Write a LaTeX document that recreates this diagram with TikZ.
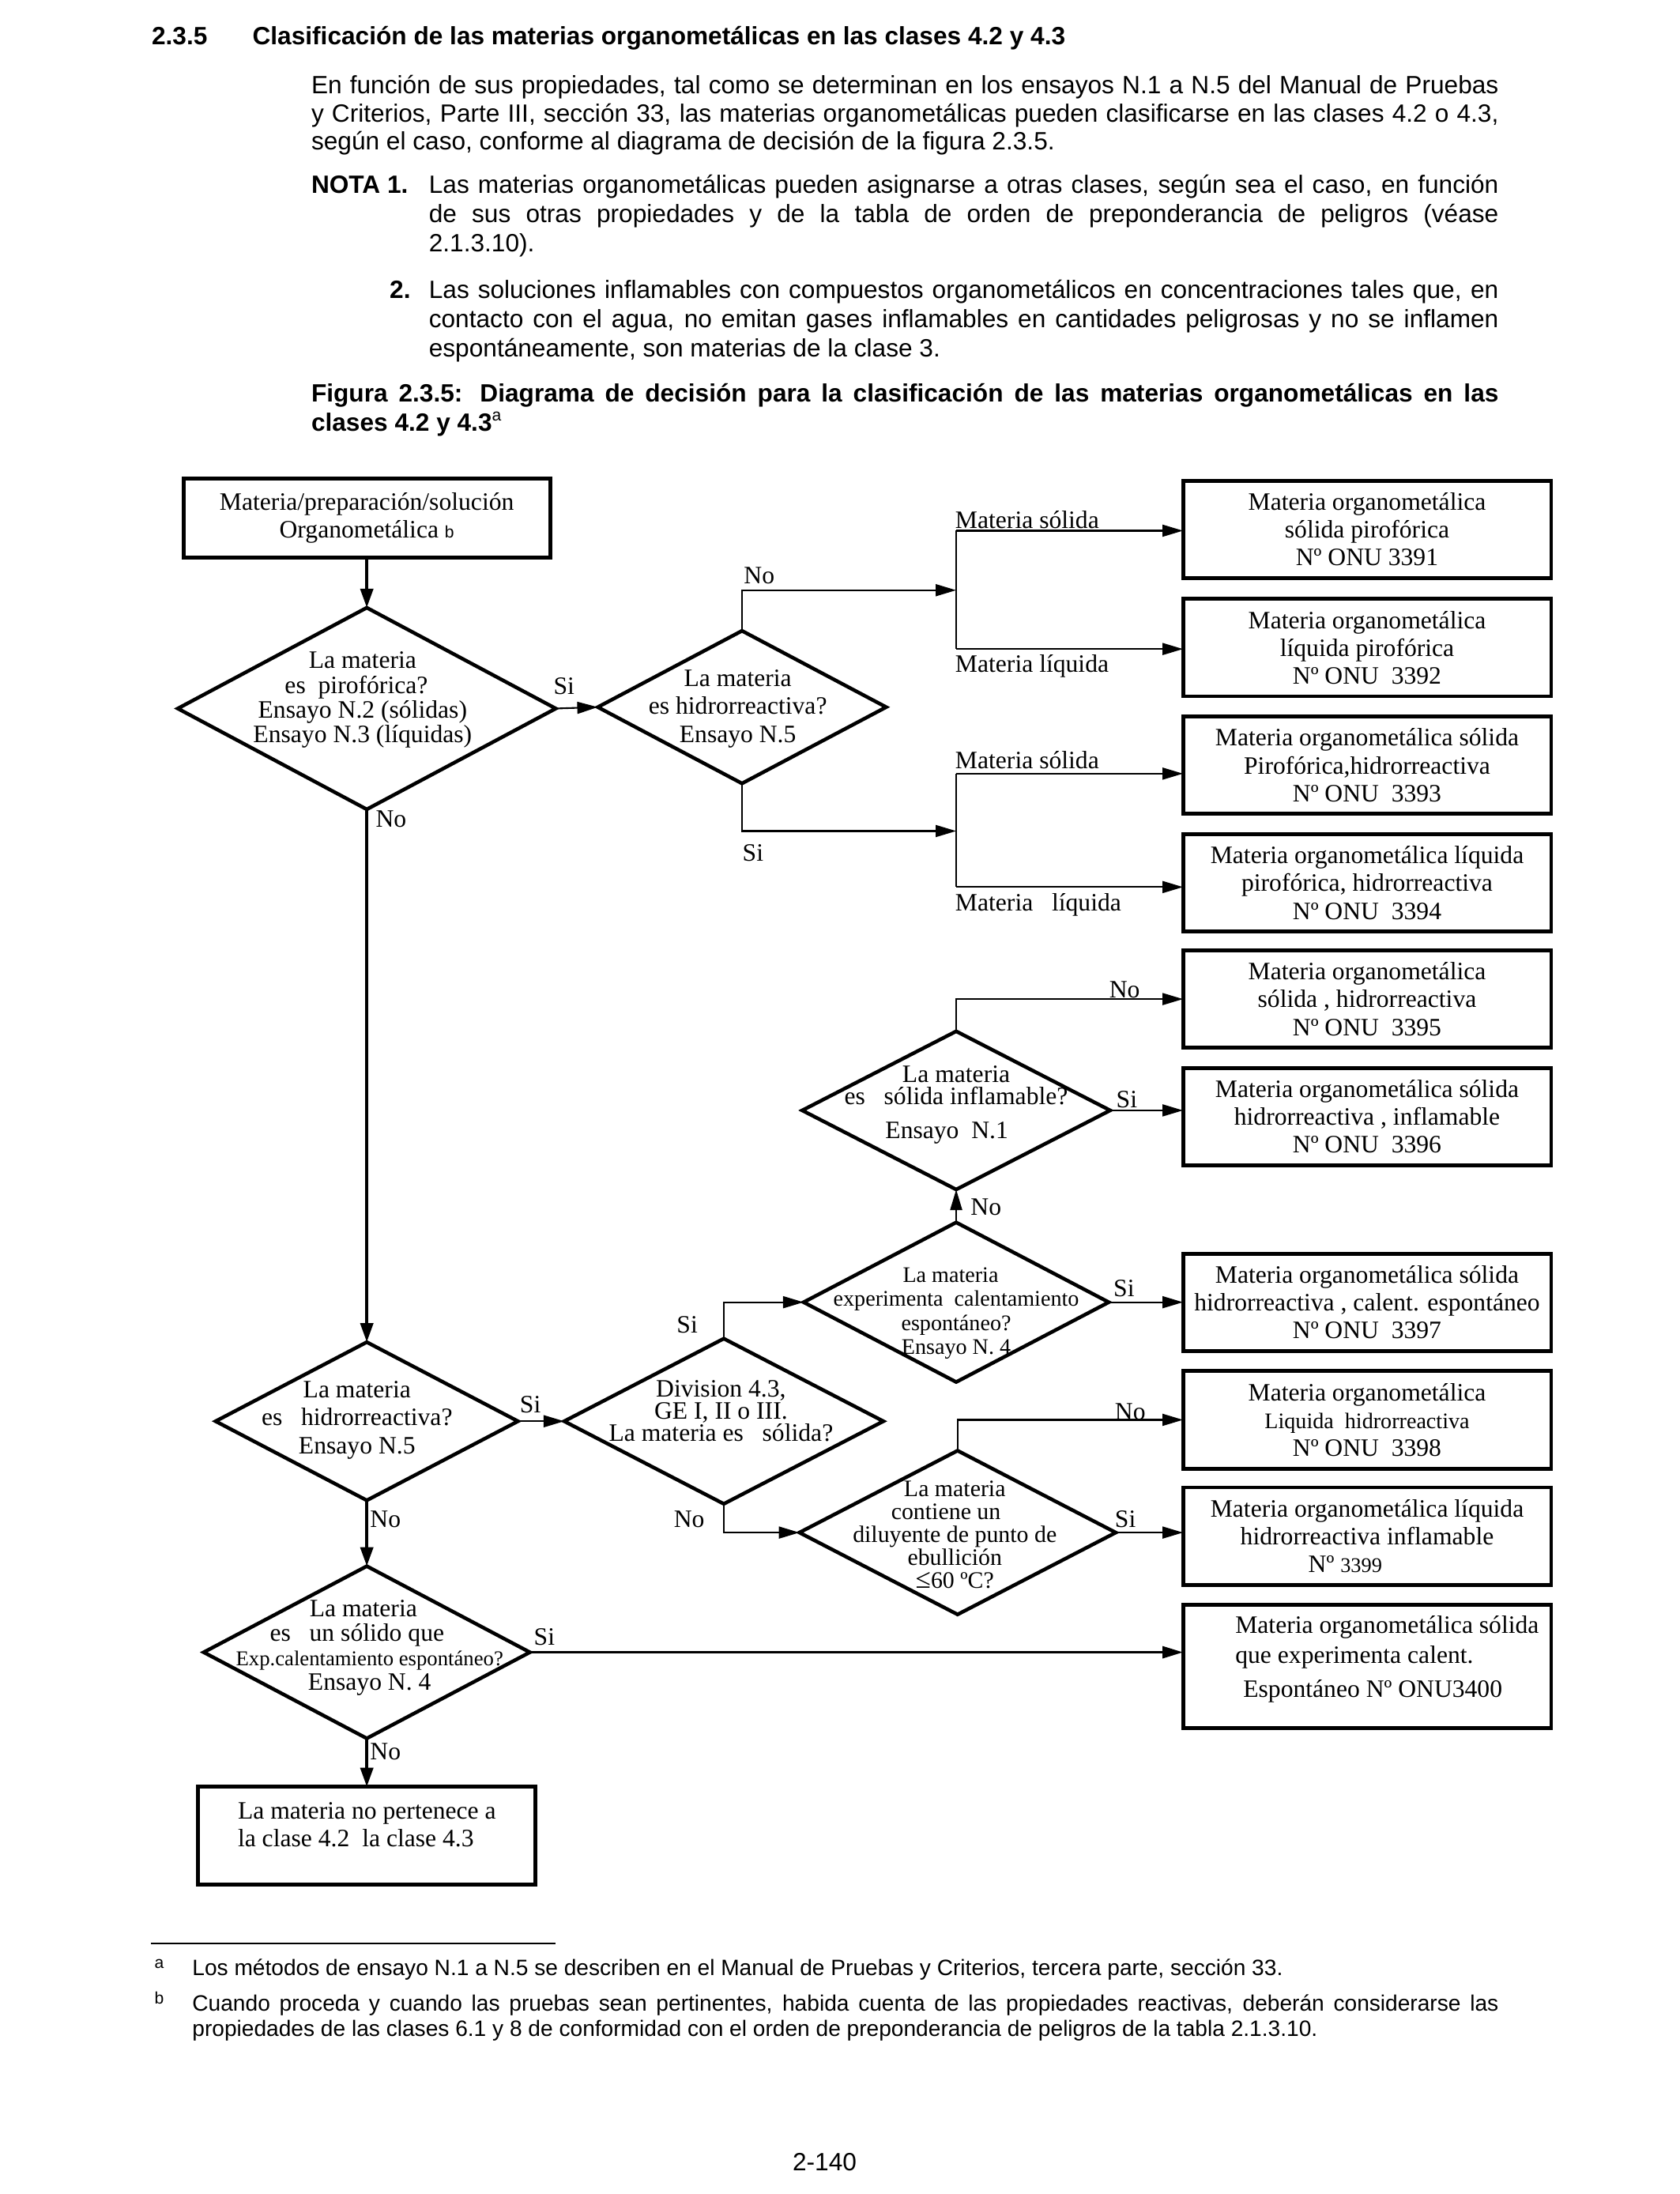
\documentclass[tikz,border=0pt]{standalone}
\usepackage{fontspec}
\setmainfont{Liberation Sans}
\newfontfamily\tnr{Liberation Serif}
\usetikzlibrary{arrows.meta, shapes.geometric}
\newlength\parw \setlength\parw{15.024cm}
\newlength\notew \setlength\notew{13.536cm}
\newlength\footw \setlength\footw{16.530cm}
\def\dpx{0.017717cm}
\newcommand\diagfont{\tnr\fontsize{9}{10}\selectfont}

\tikzset{
  txtline/.style={anchor=base west, inner sep=0pt},
  dec/.style={diamond, draw, line width=1.3pt, inner sep=0pt, outer sep=0pt},
  res/.style={draw, line width=1.4pt, inner sep=0pt, outer sep=0pt, align=center,
    minimum width=263*\dpx, minimum height=69.5*\dpx, font=\diagfont},
  qtext/.style={align=center, inner sep=0pt},
  lbl/.style={anchor=west, inner sep=0pt, font=\diagfont},
  link/.style={line width=0.6pt, -{Triangle[length=0.26cm, width=0.15cm]}},
  trunk/.style={line width=1.1pt, -{Triangle[length=0.24cm, width=0.16cm]}},
  bare/.style={line width=0.6pt}
}

\begin{document}
\begin{tikzpicture}[x=0.017717cm, y=-0.017717cm, font=\fontsize{9}{10.4}\selectfont]
  \useasboundingbox (0,0) rectangle (1200,1566.9);

  % === HEADER TEXT ===
  \node[txtline] (secnum) at (108,32) {\bfseries 2.3.5};
  \node[txtline] (sectitle) at (180,32) {\bfseries Clasificación de las materias organometálicas en las clases 4.2 y 4.3};
  \node[txtline] (par1) at (222,67) {\hbox to\parw{En función de sus propiedades, tal como se determinan en los ensayos N.1 a N.5 del Manual de Pruebas}};
  \node[txtline] (par2) at (222,87) {\hbox to\parw{y Criterios, Parte III, sección 33, las materias organometálicas pueden clasificarse en las clases 4.2 o 4.3,}};
  \node[txtline] (par3) at (222,107) {según el caso, conforme al diagrama de decisión de la figura 2.3.5.};
  \node[txtline] (nota) at (222,138) {\bfseries NOTA 1.};
  \node[txtline] (nota1a) at (306,138) {\hbox to\notew{Las materias organometálicas pueden asignarse a otras clases, según sea el caso, en función}};
  \node[txtline] (nota1b) at (306,159) {\hbox to\notew{de sus otras propiedades y de la tabla de orden de preponderancia de peligros (véase}};
  \node[txtline] (nota1c) at (306,180) {2.1.3.10).};
  \node[txtline] (notb) at (278,213) {\bfseries 2.};
  \node[txtline] (nota2a) at (306,213) {\hbox to\notew{Las soluciones inflamables con compuestos organometálicos en concentraciones tales que, en}};
  \node[txtline] (nota2b) at (306,234) {\hbox to\notew{contacto con el agua, no emitan gases inflamables en cantidades peligrosas y no se inflamen}};
  \node[txtline] (nota2c) at (306,255) {espontáneamente, son materias de la clase 3.};
  \node[txtline] (cap1) at (222,287) {\bfseries\hbox to\parw{Figura 2.3.5: Diagrama de decisión para la clasificación de las materias organometálicas en las}};
  \node[txtline] (cap2) at (222,308) {\bfseries clases 4.2 y 4.3\textsuperscript{\mdseries a}};

  % === LEFT COLUMN ===
  \node[res, minimum width=262*\dpx, minimum height=56*\dpx] (start) at (262,370)
    {Materia/preparación/solución\\Organometálica {\normalfont\fontsize{6}{6}\selectfont b}};

  \node[dec, minimum width=270*\dpx, minimum height=144*\dpx] (pyro) at (262,506) {};
  \node[qtext, font=\tnr\fontsize{9}{8.9}\selectfont] (pyrot) at (259,500)
    {La materia\\es~~pirofórica?~~~\\Ensayo N.2 (sólidas)\\Ensayo N.3 (líquidas)};

  \node[dec, minimum width=216*\dpx, minimum height=113*\dpx] (hydro2) at (262,1015) {};
  \node[qtext, font=\tnr\fontsize{9}{10.1}\selectfont] (hydro2t) at (255,1014)
    {La materia\\es~~ hidrorreactiva?\\Ensayo N.5};

  \node[dec, minimum width=233*\dpx, minimum height=123*\dpx] (selfheat) at (262,1180) {};
  \node[qtext, font=\tnr\fontsize{9}{8.8}\selectfont] (selfheatt) at (264,1177)
    {La materia~~~\\es~~ un sólido que~~~~~\\{\fontsize{7.6}{8}\selectfont Exp.calentamiento espontáneo?}\\Ensayo N. 4};

  \node[res, minimum width=241*\dpx, minimum height=70*\dpx] (none) at (262,1311) {};
  \node[qtext, anchor=west, align=left, font=\diagfont] (nonet) at (169.5,1303)
    {La materia no pertenece a\\la clase 4.2~ la clase 4.3};

  % === MIDDLE COLUMN ===
  \node[dec, minimum width=206*\dpx, minimum height=109*\dpx] (hydro1) at (530,505) {};
  \node[qtext, font=\tnr\fontsize{9}{10.1}\selectfont] (hydro1t) at (527,506)
    {La materia\\es hidrorreactiva?\\Ensayo N.5};

  \node[dec, minimum width=228*\dpx, minimum height=118*\dpx] (div) at (517,1015) {};
  \node[qtext, font=\tnr\fontsize{9}{8}\selectfont] (divt) at (515,1007.5)
    {Division 4.3,\\GE I, II o III.\\La materia es~~ sólida?};

  \node[dec, minimum width=220*\dpx, minimum height=113*\dpx] (flam) at (683,793) {};
  \node[qtext, font=\tnr\fontsize{9}{8}\selectfont] (flamt) at (683,789)
    {La materia\\es~~ sólida inflamable?\\[4pt]Ensayo~ N.1~~~~};

  \node[dec, minimum width=218*\dpx, minimum height=114*\dpx] (heat) at (683,930) {};
  \node[qtext, font=\tnr\fontsize{8}{8.6}\selectfont] (heatt) at (683,938)
    {La materia~~~\\experimenta~ calentamiento\\espontáneo?\\Ensayo N. 4};

  \node[dec, minimum width=226*\dpx, minimum height=117*\dpx] (dil) at (684,1094.5) {};
  \node[qtext, font=\tnr\fontsize{8.5}{8.2}\selectfont] (dilt) at (682,1096)
    {La materia\\contiene un~~~~\\diluyente de punto de\\ebullición\\{\fontsize{10}{8}\selectfont ≤}60 ºC?};

  % === RESULT BOXES ===
  \node[res] (r3391) at (976.5,378) {Materia organometálica\\sólida pirofórica\\Nº ONU 3391};
  \node[res] (r3392) at (976.5,462.5) {Materia organometálica\\líquida pirofórica\\Nº ONU~ 3392};
  \node[res] (r3393) at (976.5,546.5) {Materia organometálica sólida\\Pirofórica,hidrorreactiva\\Nº ONU~ 3393};
  \node[res] (r3394) at (976.5,630.5) {Materia organometálica líquida\\pirofórica, hidrorreactiva\\Nº ONU~ 3394};
  \node[res] (r3395) at (976.5,713.5) {Materia organometálica\\sólida , hidrorreactiva\\Nº ONU~ 3395};
  \node[res] (r3396) at (976.5,797.5) {Materia organometálica sólida\\hidrorreactiva , inflamable\\Nº ONU~ 3396};
  \node[res] (r3397) at (976.5,930) {Materia organometálica sólida\\hidrorreactiva , calent. espontáneo\\Nº ONU~ 3397};
  \node[res] (r3398) at (976.5,1014) {Materia organometálica\\{\fontsize{8}{8}\selectfont Liquida~ hidrorreactiva}\\Nº ONU~ 3398};
  \node[res] (r3399) at (976.5,1097) {Materia organometálica líquida\\hidrorreactiva inflamable\\Nº {\fontsize{7.5}{7.5}\selectfont 3399}~~~~~~~~};
  \node[res, minimum height=88*\dpx] (r3400) at (976.5,1190) {};
  \node[qtext, anchor=west, align=left, font=\diagfont] (r3400t) at (882,1185)
    {Materia organometálica sólida\\[0.8pt]que experimenta calent.\\[2.3pt]\hspace*{0.1cm}Espontáneo Nº ONU3400};

  % === BRACKETS ===
  \coordinate (brk1) at (683,421.5);
  \coordinate (brk1a) at (683,379);
  \coordinate (brk1b) at (683,463.5);
  \coordinate (brk2) at (683,593.5);
  \coordinate (brk2a) at (683,552.5);
  \coordinate (brk2b) at (683,633.5);

  % === CONNECTORS ===
  \draw[trunk] (start) -- (pyro);
  \draw[trunk] (pyro) -- (hydro2);
  \draw[trunk] (hydro2) -- (selfheat);
  \draw[trunk] (selfheat) -- (none);
  \draw[link] (pyro.east) -- (hydro1.west);
  \draw[link] (hydro1.north) |- (brk1);
  \draw[link] (hydro1.south) |- (brk2);
  \draw[bare] (brk1a) -- (brk1b);
  \draw[bare] (brk2a) -- (brk2b);
  \draw[link] (brk1a) -- (brk1a -| r3391.west);
  \draw[link] (brk1b) -- (brk1b -| r3392.west);
  \draw[link] (brk2a) -- (brk2a -| r3393.west);
  \draw[link] (brk2b) -- (brk2b -| r3394.west);
  \draw[link] (hydro2.east) -- (div.west);
  \draw[link] (div.north) |- (heat.west);
  \draw[link] (div.south) |- (dil.west);
  \draw[link] (heat) -- (flam);
  \draw[link] (heat.east) -- (heat.east -| r3397.west);
  \draw[link] (flam.north) |- (r3395.west);
  \draw[link] (flam.east) -- (flam.east -| r3396.west);
  \draw[link] (dil.north) |- (r3398.west);
  \draw[link] (dil.east) -- (dil.east -| r3399.west);
  \draw[link, line width=0.9pt] (selfheat.east) -- (selfheat.east -| r3400.west);

  % === BRANCH LABELS ===
  \node[lbl] (lno1) at (268,585) {No};
  \node[lbl] (lsi1) at (395,490) {Si};
  \node[lbl] (lno2) at (531,411) {No};
  \node[lbl] (lsi2) at (530,609) {Si};
  \node[lbl] (lsol1) at (682,371) {Materia sólida};
  \node[lbl] (lliq1) at (682,476) {Materia líquida};
  \node[lbl] (lsol2) at (682,543) {Materia sólida};
  \node[lbl] (lliq2) at (682,646) {Materia~~ líquida};
  \node[lbl] (lno3) at (792,707) {No};
  \node[lbl] (lsi3) at (797,785) {Si};
  \node[lbl] (lno4) at (693,862) {No};
  \node[lbl] (lsi4) at (795,920) {Si};
  \node[lbl] (lsi5) at (483,946) {Si};
  \node[lbl] (lno5) at (481,1085) {No};
  \node[lbl] (lno6) at (796,1008) {No};
  \node[lbl] (lsi6) at (796,1085) {Si};
  \node[lbl] (lsi7) at (371,1003) {Si};
  \node[lbl] (lno7) at (264,1085) {No};
  \node[lbl] (lsi8) at (381,1169) {Si};
  \node[lbl] (lno8) at (264,1251) {No};

  % === FOOTNOTES ===
  \draw[bare] (108,1388) -- (397,1388);
  \node[txtline, font=\fontsize{6}{6}\selectfont] (fna) at (110,1406) {a};
  \node[txtline, font=\fontsize{8}{9.2}\selectfont] (fnat) at (137,1411) {Los métodos de ensayo N.1 a N.5 se describen en el Manual de Pruebas y Criterios, tercera parte, sección 33.};
  \node[txtline, font=\fontsize{6}{6}\selectfont] (fnb) at (110,1431) {b};
  \node[txtline, font=\fontsize{8}{9.2}\selectfont] (fnbt) at (137,1436) {\hbox to\footw{Cuando proceda y cuando las pruebas sean pertinentes, habida cuenta de las propiedades reactivas, deberán considerarse las}};
  \node[txtline, font=\fontsize{8}{9.2}\selectfont] (fnbt2) at (137,1454) {propiedades de las clases 6.1 y 8 de conformidad con el orden de preponderancia de peligros de la tabla 2.1.3.10.};
  \node[anchor=base, inner sep=0pt] (pagenum) at (589,1550) {2-140};
\end{tikzpicture}
\end{document}
